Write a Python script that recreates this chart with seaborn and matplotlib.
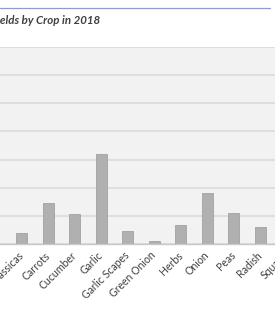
import numpy as np
import pandas as pd
import seaborn as sns
import matplotlib.pyplot as plt
from matplotlib.lines import Line2D

# crops shown in the (cropped) chart, yields in lbs
crops = ["Brassicas", "Carrots", "Cucumber", "Garlic", "Garlic Scapes",
         "Green Onion", "Herbs", "Onion", "Peas", "Radish", "Squash"]
yields = [19, 73, 54, 160, 23, 5, 34, 91, 55, 31, np.nan]
y_ticks = [0, 50, 100, 150, 200, 250, 300, 350]

data = pd.DataFrame({"crop": crops, "yield": yields})

sns.set_style("white")
plt.rcParams["font.family"] = ["Lato", "DejaVu Sans"]

fig = plt.figure(figsize=(2.75, 3.15), dpi=100)
fig.patch.set_facecolor("white")

# the chart is cut off on both sides, so the axes run past the figure
W, H = 275, 315
x0 = 21.7 - 26.5 * 1.5
x1 = 21.7 + 26.5 * 10.5
ax = fig.add_axes([x0 / W, (H - 244) / H, (x1 - x0) / W, 197 / H])

sns.barplot(data=data, x="crop", y="yield", color="#b0b0b0", width=0.43,
            edgecolor="#a2a2a2", linewidth=0.6, saturation=1, ax=ax, zorder=3)

ax.set_facecolor("#f2f2f2")
ax.set_xlim(-1.5, 10.5)
ax.set_ylim(0, 350)
ax.set_yticks(y_ticks)
ax.set_yticklabels([])
ax.grid(axis="y", color="#d9d9d9", linewidth=1.1, zorder=0)
ax.set_axisbelow(True)
for s in ["top", "right", "left"]:
    ax.spines[s].set_visible(False)
ax.spines["bottom"].set_color("#c8c8c8")
ax.spines["bottom"].set_linewidth(1.0)
ax.spines["bottom"].set_zorder(4)

ax.set_xlabel("")
ax.set_ylabel("")
ax.tick_params(axis="y", length=0)
ax.tick_params(axis="x", which="major", length=0, pad=7, labelsize=7.6,
               labelcolor="#404040")
ax.set_xticks(np.arange(-1.5, 11, 1), minor=True)
ax.tick_params(axis="x", which="minor", length=4, color="#c8c8c8", width=0.8)
for lbl in ax.get_xticklabels():
    lbl.set_rotation(45)
    lbl.set_ha("right")
    lbl.set_va("center")
    lbl.set_rotation_mode("anchor")

# title and the blue rule above it
fig.text(-10 / W, 1 - 20 / H, "Yields by Crop in 2018", fontsize=8.3,
         fontweight="bold", fontstyle="italic", color="#404040", va="center")
fig.add_artist(Line2D([0, 270 / W], [1 - 8 / H, 1 - 8 / H], color="#8a9dcc",
                      linewidth=0.9, transform=fig.transFigure))

fig.savefig("out.png", dpi=100)
